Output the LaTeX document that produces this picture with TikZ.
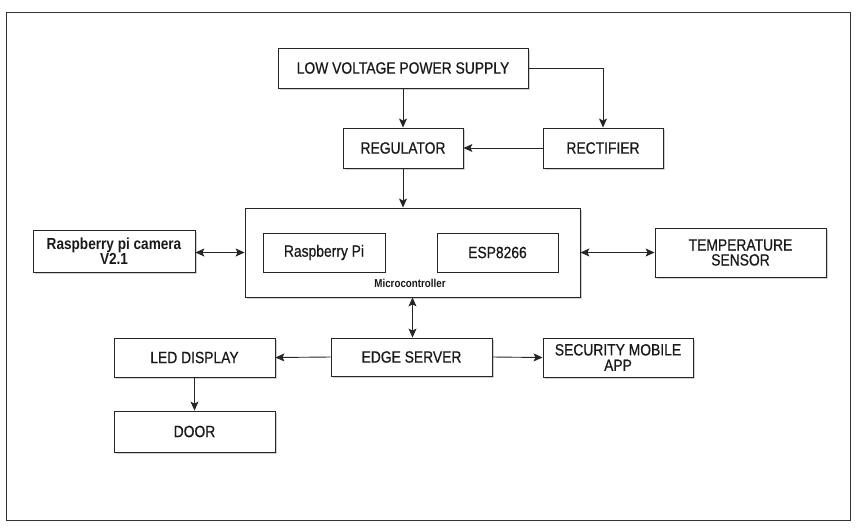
\documentclass[tikz,border=0pt]{standalone}
\usepackage{fontspec}
\setmainfont{Liberation Sans}[FakeStretch=0.85]
\newfontfamily\semibf{Liberation Sans}[FakeStretch=0.85, FakeBold=0.6]
\usetikzlibrary{arrows.meta,shadows}
\begin{document}
\begin{tikzpicture}[x=1pt,y=-1pt,
  blk/.style={draw=black!85, line width=0.9pt, fill=white, align=center, font=\semibf\fontsize{16.3}{17}\selectfont, text=black!90,
     drop shadow={shadow xshift=1.5pt, shadow yshift=-1.5pt, fill=black!30, opacity=0.6}},
  inner/.style={draw=black!85, line width=0.9pt, fill=white, align=center, font=\semibf\fontsize{16.3}{17}\selectfont, text=black!90},
  con/.style={draw=black!85, line width=0.9pt, -{Stealth[length=9pt,width=8pt,inset=2pt]}},
  bicon/.style={draw=black!85, line width=0.9pt, {Stealth[length=9pt,width=8pt,inset=2pt]}-{Stealth[length=9pt,width=8pt,inset=2pt]}}
]
\useasboundingbox (0,0) rectangle (856,528);
\draw[black!80, line width=1pt] (6,12) rectangle (850,520);

\node[blk, minimum width=250pt, minimum height=40pt] (lvps) at (403,68) {LOW VOLTAGE POWER SUPPLY};
\node[blk, minimum width=120pt, minimum height=40pt] (reg) at (403,148) {REGULATOR};
\node[blk, minimum width=120pt, minimum height=40pt] (rect) at (603,148) {RECTIFIER};

\node[blk, minimum width=335pt, minimum height=89pt] (mcu) at (412.5,252.5) {};
\node[inner, minimum width=122pt, minimum height=39pt] (rpi) at (324,252.5) {Raspberry Pi};
\node[inner, minimum width=121pt, minimum height=39pt] (esp) at (497.5,252.5) {ESP8266};
\node[font=\bfseries\fontsize{11.5}{12}\selectfont, text=black!90] (mculbl) at (410,283) {Microcontroller};

\node[blk, minimum width=162pt, minimum height=42pt, font=\bfseries\fontsize{16}{16}\selectfont] (cam) at (114,251) {Raspberry pi camera\\[-1pt]V2.1};
\node[blk, minimum width=171pt, minimum height=49pt, font=\semibf\fontsize{16.3}{16}\selectfont] (temp) at (740.5,252.5) {TEMPERATURE\\[-1pt]SENSOR};

\node[blk, minimum width=161pt, minimum height=38pt] (edge) at (411.5,357) {EDGE SERVER};
\node[blk, minimum width=161pt, minimum height=39pt] (led) at (194.5,357.5) {LED DISPLAY};
\node[blk, minimum width=150pt, minimum height=39pt, inner sep=1pt, font=\semibf\fontsize{16.3}{15.5}\selectfont] (app) at (618,357.5) {SECURITY MOBILE\\APP};
\node[blk, minimum width=161pt, minimum height=41pt] (door) at (194.5,431.5) {DOOR};

\draw[con] (lvps.south) -- (reg.north);
\draw[con] (lvps.east) -| (rect.north);
\draw[con] (rect.west) -- (reg.east);
\draw[con] (reg.south) -- (reg.south |- mcu.north);
\draw[bicon] (cam.east |- mcu.west) -- (mcu.west);
\draw[bicon] (mcu.east) -- (temp.west |- mcu.east);
\draw[bicon] (mcu.south) -- (mcu.south |- edge.north);
\draw[con] (edge.west) -- (led.east);
\draw[con] (edge.east) -- (app.west);
\draw[con] (led.south) -- (door.north);
\end{tikzpicture}
\end{document}
